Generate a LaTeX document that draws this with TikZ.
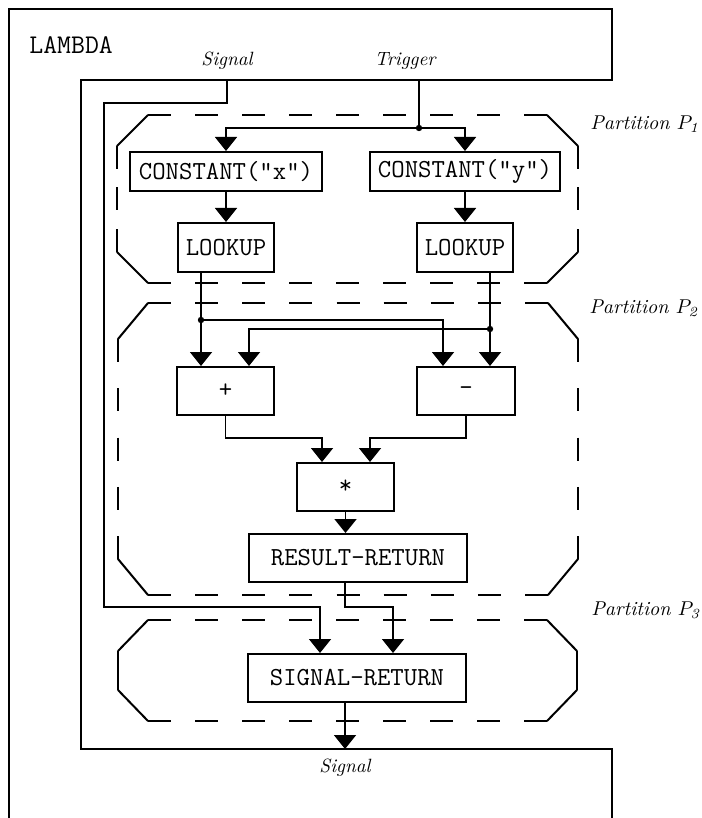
\documentclass[tikz,border=0pt]{standalone}
\usetikzlibrary{arrows.meta}
\newcommand\mybxfont{\ttfamily\fontsize{13}{15}\selectfont}
\newcommand\mylamfont{\ttfamily\fontsize{13.5}{15}\selectfont}
\newcommand\mylabfont{\itshape\fontsize{9.6}{11}\selectfont}
\newcommand\mypartfont{\itshape\fontsize{10}{12}\selectfont}
\tikzset{
  box/.style={draw, line width=1pt, inner sep=0pt, font=\mybxfont},
  arr/.style={line width=0.85pt, -{Triangle[width=11pt,length=7pt]}},
  wire/.style={line width=0.85pt},
  frame/.style={line width=1pt},
  partline/.style={line width=1pt},
  lab/.style={font=\mylabfont, inner sep=0pt},
  plab/.style={font=\mypartfont, inner sep=0pt},
}
% dashed side that starts and ends with a dash
\newcommand\dside[4]{%
  \pgfmathsetmacro\dlen{veclen((#3)-(#1),(#4)-(#2))}%
  \pgfmathsetmacro\dn{max(1,round((\dlen+23)/46))}%
  \pgfmathsetmacro\ddash{\dn==1 ? 0.5*\dlen : 11.5}%
  \pgfmathsetmacro\dgap{\dn==1 ? 3 : 0.5*(\dlen-\dn*23)/max(\dn-1,1)}%
  \draw[partline, dash pattern=on \ddash pt off \dgap pt] (#1,#2) -- (#3,#4);}
\newcommand\octpart[6]{%
  \dside{#1+#5}{#2}{#3-#5}{#2}%
  \dside{#3}{#2+#6}{#3}{#4-#6}%
  \dside{#1+#5}{#4}{#3-#5}{#4}%
  \dside{#1}{#2+#6}{#1}{#4-#6}%
  \draw[partline, line cap=round] (#1,#2+#6) -- (#1+#5,#2);
  \draw[partline, line cap=round] (#3-#5,#2) -- (#3,#2+#6);
  \draw[partline, line cap=round] (#3,#4-#6) -- (#3-#5,#4);
  \draw[partline, line cap=round] (#1+#5,#4) -- (#1,#4-#6);}
\begin{document}
\begin{tikzpicture}[x=0.5pt, y=-0.5pt]
\useasboundingbox (0,0) rectangle (701,818);

% outer LAMBDA frame
\draw[frame] (9,818) -- (9,9) -- (612,9) -- (612,80) -- (81,80) -- (81,749) -- (612,749) -- (612,818);
\node[font=\mylamfont, inner sep=0pt, anchor=west] (lam) at (29,45) {LAMBDA};
\node[lab, anchor=base] (sigl) at (227,66) {Signal};
\node[lab, anchor=base] (trl) at (405,66) {Trigger};
\node[lab, anchor=base] (sigb) at (345,772) {Signal};

% partitions
\octpart{117}{115}{578}{283}{31}{31}
\octpart{118}{303}{578}{595}{30}{36}
\octpart{118}{620}{577}{721}{30}{31}
\node[plab, anchor=base west] (p1) at (590,130) {Partition $P_{\mathit{1}}$};
\node[plab, anchor=base west] (p2) at (589,313) {Partition $P_{\mathit{2}}$};
\node[plab, anchor=base west] (p3) at (591,615) {Partition $P_{\mathit{3}}$};

% boxes
\node[box, minimum width=96pt, minimum height=19.5pt] (cx) at (226,171.5) {CONSTANT("x")};
\node[box, minimum width=95pt, minimum height=19.5pt] (cy) at (465,171.5) {CONSTANT("y")};
\node[box, minimum width=48pt, minimum height=24.5pt] (lx) at (226,247.5) {LOOKUP};
\node[box, minimum width=48pt, minimum height=24.5pt] (ly) at (465,247.5) {LOOKUP};
\node[box, minimum width=48.5pt, minimum height=24pt] (plus) at (225.5,391) {+};
\node[box, minimum width=49pt, minimum height=24pt] (minus) at (466,391) {-};
\node[box, minimum width=48.5pt, minimum height=24pt] (star) at (345.5,487) {*};
\node[box, minimum width=109pt, minimum height=24pt] (rr) at (358,558) {RESULT-RETURN};
\node[box, minimum width=109pt, minimum height=24pt] (sr) at (357,678) {SIGNAL-RETURN};

% helper coordinates
\coordinate (tT) at (419,80);
\coordinate (jT) at (419,128);
\coordinate (sT) at (227,80);
\coordinate (sK) at (104,103);
\coordinate (hS) at (0,607);
\coordinate (xS) at (320,0);
\coordinate (jL) at (201,320);
\coordinate (jR) at (490,329);
\coordinate (xA) at (443,0);
\coordinate (xB) at (249,0);
\coordinate (hP) at (0,438);
\coordinate (xC) at (322,0);
\coordinate (xD) at (370,0);
\coordinate (xE) at (345,0);
\coordinate (xF) at (393,0);
\coordinate (fB) at (0,749);

% connectors
\draw[wire] (tT) -- (jT);
\draw[arr] (jT) -| (cx);
\draw[arr] (jT) -| (cy);
\draw[arr] (cx) -- (lx);
\draw[arr] (cy) -- (ly);
\draw[arr] (lx.south -| jL) -- (plus.north -| jL);
\draw[arr] (ly.south -| jR) -- (minus.north -| jR);
\draw[arr] (jL) -| (minus.north -| xA);
\draw[arr] (jR) -| (plus.north -| xB);
\draw[arr] (plus.south) -- (plus.south |- hP) -| (star.north -| xC);
\draw[arr] (minus.south) -- (minus.south |- hP) -| (star.north -| xD);
\draw[arr] (star.south) -- (rr.north -| star.south);
\draw[arr] (rr.south -| xE) -- (xE |- hS) -| (sr.north -| xF);
\draw[arr] (sT) |- (sK) -- (sK |- hS) -| (sr.north -| xS);
\draw[arr] (sr.south -| xE) -- (xE |- fB);
\fill (jT) circle (1.6pt);
\fill (jL) circle (1.6pt);
\fill (jR) circle (1.6pt);
\end{tikzpicture}
\end{document}
